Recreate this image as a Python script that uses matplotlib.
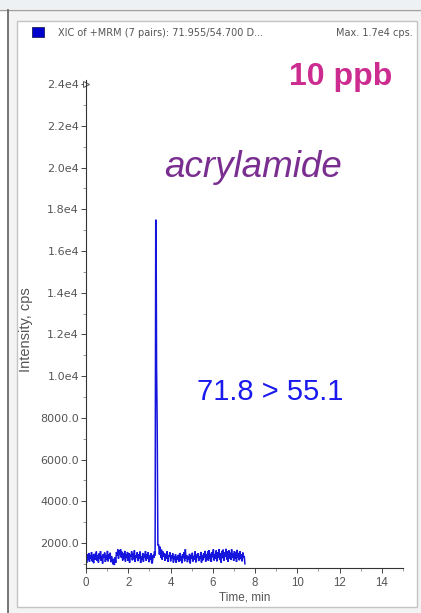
import numpy as np
import matplotlib
matplotlib.use("Agg")
import matplotlib.pyplot as plt
from matplotlib.patches import Rectangle
from matplotlib.lines import Line2D
from matplotlib.ticker import MultipleLocator, FixedLocator, FuncFormatter

# baseline noise before the peak (cps)
pre_peak = [1280, 1050, 1450, 1180, 1520, 1100, 1390, 1250, 1560, 1120,
            1430, 1030, 1480, 1200, 1350, 1590, 1150, 1420, 1060, 1500,
            1230, 1610, 1140, 1380, 1010, 1470, 1290, 1540, 1090, 1400,
            1180, 1620, 1120, 1450, 1260, 1530, 1080, 1360, 1150, 980,
            1240, 940, 1310, 1050, 1560, 1380, 1690, 1250, 1640, 1420,
            1700, 1300, 1580, 1160, 1490, 1230, 1620, 1110, 1450, 1280,
            1570, 1140, 1510, 1050, 1430, 1340, 1600, 1170, 1480, 1220,
            1650, 1090, 1400, 1310, 1550, 1130, 1460, 1260, 1590, 1040,
            1370, 1200, 1520, 1100, 1440, 1290, 1610, 1150, 1470, 1230,
            1560, 1080, 1390, 1190, 1500, 1020, 1060, 1430, 1280, 1590]

# acrylamide peak
peak_time = [3.27, 3.30, 3.32, 3.34, 3.37, 3.40]
peak_int = [1400, 17500, 16200, 10400, 7500, 1900]

# baseline noise after the peak (cps)
post_peak = [1900, 1450, 1820, 1300, 1680, 1200, 1590, 1350, 1520, 1140,
             1480, 1260, 1600, 1090, 1420, 1330, 1550, 1120, 1390, 1240,
             1500, 1060, 1370, 1180, 1460, 1050, 1340, 1210, 1430, 1100,
             1520, 1150, 1380, 1030, 1450, 1270, 1560, 1120, 1700, 1240,
             1410, 1080, 1350, 1190, 1480, 1020, 1400, 1260, 1530, 1110,
             1380, 1210, 1600, 1070, 1440, 1300, 1510, 1130, 1360, 1230,
             1570, 1060, 1420, 1170, 1500, 1280, 1620, 1100, 1450, 1200,
             1590, 1140, 1660, 1250, 1480, 1090, 1550, 1320, 1690, 1160,
             1470, 1230, 1640, 1120, 1560, 1290, 1710, 1180, 1500, 1060,
             1620, 1270, 1680, 1150, 1540, 1330, 1720, 1210, 1590, 1100,
             1650, 1260, 1530, 1180, 1700, 1300, 1480, 1140, 1610, 1240,
             1560, 1090, 1670, 1280, 1520, 1170, 1600, 1230, 1450, 1120,
             1540, 1300, 1380, 1000]

pre_time = np.linspace(0.0, 3.24, len(pre_peak))
post_time = np.linspace(3.44, 7.52, len(post_peak))

time = np.concatenate([pre_time, peak_time, post_time])
intensity = np.concatenate([pre_peak, peak_int, post_peak])

x_ticks = [0, 2, 4, 6, 8, 10, 12, 14]
y_ticks = [2000, 4000, 6000, 8000, 10000, 12000, 14000, 16000, 18000, 20000, 22000, 24000]

W, H = 421, 613
fig = plt.figure(figsize=(W / 100, H / 100), dpi=100)
fig.patch.set_facecolor("white")
plt.rcParams["font.family"] = ["Liberation Sans", "DejaVu Sans"]


def px_rect(x0, y0, x1, y1, **kw):
    # rectangle given in pixel coords (top-left origin)
    return Rectangle((x0 / W, 1 - y1 / H), (x1 - x0) / W, (y1 - y0) / H,
                     transform=fig.transFigure, **kw)


# window frame, drawn behind the axes
fig.add_artist(px_rect(0, 0, W, 9, facecolor="#eef1f4", edgecolor="none", zorder=-10))
fig.add_artist(px_rect(8, 10, W, H, facecolor="#f3f3f3", edgecolor="none", zorder=-10))
fig.add_artist(Line2D([0, 1], [1 - 9.5 / H, 1 - 9.5 / H], transform=fig.transFigure,
                      color="#a0a0a0", lw=1, zorder=-9))
fig.add_artist(Line2D([7.5 / W, 7.5 / W], [0, 1 - 9.5 / H], transform=fig.transFigure,
                      color="#6a6a6a", lw=1.3, zorder=-9))
fig.add_artist(px_rect(17, 21, 417, 607, facecolor="white", edgecolor="#c4c4c4", lw=1,
                       zorder=-8))

# legend square and header
fig.add_artist(px_rect(32, 27, 44, 37, facecolor="#0000cc", edgecolor="#202060", lw=0.6))
fig.text(58 / W, 1 - 33 / H, "XIC of +MRM (7 pairs): 71.955/54.700 D...",
         fontsize=7, family="DejaVu Sans", color="#555555", va="center", ha="left")
fig.text(413 / W, 1 - 33 / H, "Max. 1.7e4 cps.",
         fontsize=7, family="DejaVu Sans", color="#555555", va="center", ha="right")

ax = fig.add_axes([86 / W, (H - 568) / H, (403 - 86) / W, (568 - 80) / H])
ax.set_facecolor("none")
ax.plot(time, intensity, color="#1515dd", lw=1.1, solid_joinstyle="miter")

ax.set_xlim(0, 15)
ax.set_ylim(800, 24200)
ax.xaxis.set_major_locator(FixedLocator(x_ticks))
ax.xaxis.set_minor_locator(MultipleLocator(1))
ax.yaxis.set_major_locator(FixedLocator(y_ticks))
ax.yaxis.set_minor_locator(MultipleLocator(1000))
ax.yaxis.set_major_formatter(FuncFormatter(
    lambda v, p: f"{v / 1e4:.1f}e4" if v >= 10000 else f"{v:.1f}"))

for s in ["top", "right"]:
    ax.spines[s].set_visible(False)
for s in ["left", "bottom"]:
    ax.spines[s].set_color("#333333")
    ax.spines[s].set_linewidth(0.8)

ax.tick_params(axis="both", which="major", length=3.5, width=0.7, color="#444444",
               labelcolor="#555555", pad=1.5)
ax.tick_params(axis="both", which="minor", length=2, width=0.6, color="#888888")
ax.tick_params(axis="x", labelsize=8.3, pad=3)
ax.tick_params(axis="y", labelsize=8)
for lbl in ax.get_yticklabels():
    lbl.set_family("DejaVu Sans")

ax.set_xlabel("Time, min", fontsize=8.5, color="#555555", labelpad=2)
ax.set_ylabel("Intensity, cps", fontsize=10.5, color="#555555")
ax.yaxis.set_label_coords(-0.167, 0.488)

# small open triangle at top of y axis
ax.plot([0], [y_ticks[-1]], marker=">", ms=5, mfc="white", mec="#555555",
        mew=0.7, clip_on=False)

# annotations
ax.text(0.968, 0.990, "10 ppb", transform=ax.transAxes, fontsize=23, fontweight="bold",
        color="#cc2c8f", ha="right", va="baseline")
ax.text(0.527, 0.801, "acrylamide", transform=ax.transAxes, fontsize=26.5, style="italic",
        color="#7a2e90", ha="center", va="baseline")
ax.text(0.580, 0.361, "71.8 > 55.1", transform=ax.transAxes, fontsize=21,
        color="#1a1aee", ha="center", va="center")

fig.savefig("out.png", dpi=100)
